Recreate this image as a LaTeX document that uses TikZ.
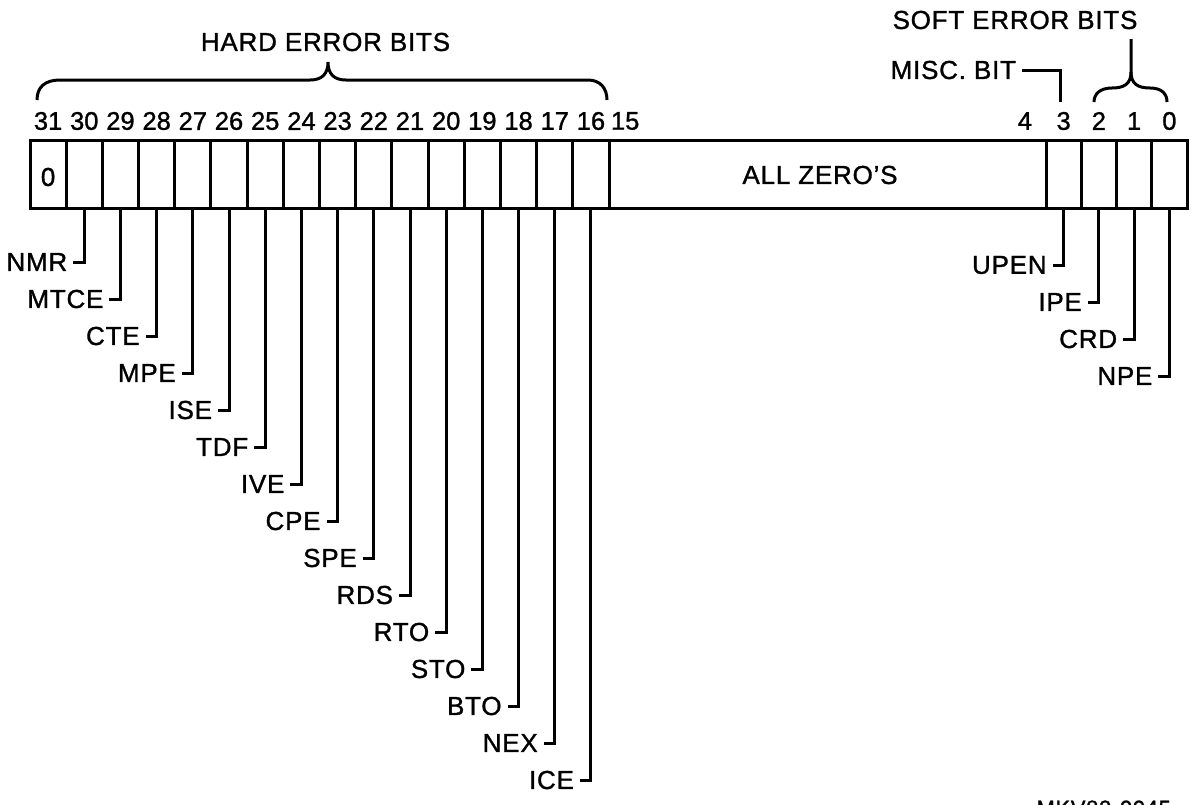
\documentclass[tikz,border=0pt]{standalone}
\usepackage{fontspec}
\setmainfont{Liberation Sans}[FakeBold=1.2,LetterSpace=3]
\newfontfamily\numfont{Liberation Sans}[FakeBold=1.2,LetterSpace=0]
\begin{document}
\begin{tikzpicture}[x=1pt,y=-1pt,line width=3pt,
  cell/.style={draw, minimum width=36.19pt, minimum height=68pt, inner sep=0pt, outer sep=0pt, font=\fontsize{24}{24}\selectfont},
  scell/.style={cell, minimum width=35.25pt},
  num/.style={inner sep=0pt, outer sep=0pt, font=\numfont\fontsize{25.5}{25.5}\selectfont},
  lab/.style={anchor=east, inner xsep=6pt, inner ysep=0pt, outer sep=0pt, font=\fontsize{26}{26}\selectfont},
  ttl/.style={inner sep=0pt, outer sep=0pt, font=\fontsize{26}{26}\selectfont},
  leader/.style={line width=3pt}]
\useasboundingbox (0,0) rectangle (1193,804);
% hard error cells 31..16
\foreach \b in {31,...,16} {
  \pgfmathsetmacro\cx{30+36.19*(31-\b+0.5)}
  \node[cell] (c\b) at (\cx,174) {};
  \node[num] (n\b) at (\cx,121) {\b};
}
\node[ttl] (zero31) at ([yshift=-3pt]c31) {0};
% all zeros
\node[cell, minimum width=437pt] (zeros) at (827.5,174) {};
\node[ttl] (zerotxt) at (820,175) {ALL ZERO'S};
\node[num, anchor=west] (n15) at (611,121) {15};
\node[num, anchor=east] (n4) at (1032,121) {4};
% soft cells 3..0
\foreach \b in {3,...,0} {
  \pgfmathsetmacro\cx{1046+35.25*(3-\b+0.5)}
  \node[scell] (c\b) at (\cx,174) {};
  \node[num] (n\b) at (\cx,121) {\b};
}
% hard error labels
\foreach \b/\t in {30/NMR,29/MTCE,28/CTE,27/MPE,26/ISE,25/TDF,24/IVE,23/CPE,22/SPE,21/RDS,20/RTO,19/STO,18/BTO,17/NEX,16/ICE} {
  \pgfmathsetmacro\cx{30+36.19*(31-\b+0.5)}
  \pgfmathsetmacro\ly{262+37*(30-\b)}
  \node[lab] (l\b) at ({\cx-11},\ly) {\t};
  \draw[leader] (c\b.south) |- (l\b.east);
}
% soft labels
\foreach \b/\t in {3/UPEN,2/IPE,1/CRD,0/NPE} {
  \pgfmathsetmacro\cx{1046+35.25*(3-\b+0.5)}
  \pgfmathsetmacro\ly{265+37*(3-\b)}
  \node[lab] (l\b) at ({\cx-11},\ly) {\t};
  \draw[leader] (c\b.south) |- (l\b.east);
}
% hard error brace
\node[ttl] (hard) at (325.5,42) {HARD ERROR BITS};
\draw (37,100) .. controls (37,87) and (45,80) .. (60,80) -- (310,80)
  .. controls (322,80) and (328,74) .. (328,62)
  .. controls (328,74) and (334,80) .. (346,80) -- (588,80)
  .. controls (600,80) and (607,88) .. (607,100);
% soft error brace
\node[ttl] (soft) at (1015,20) {SOFT ERROR BITS};
\draw (1131,39) -- (1131,72) .. controls (1131,84) and (1124,88) .. (1112,88)
  .. controls (1100,88) and (1094,94) .. (1094,102);
\draw (1131,72) .. controls (1131,84) and (1138,88) .. (1150,88)
  .. controls (1162,88) and (1167,94) .. (1167,102);
% misc bit
\node[lab] (misc) at (1022,70) {MISC. BIT};
\coordinate (m3) at (1060,102);
\draw (misc.east) -| (m3);
% figure id
\node[inner sep=0pt, anchor=north west, font=\fontsize{22}{22}\selectfont] (figid) at (1035,799) {MKV82-0045};
\end{tikzpicture}
\end{document}
